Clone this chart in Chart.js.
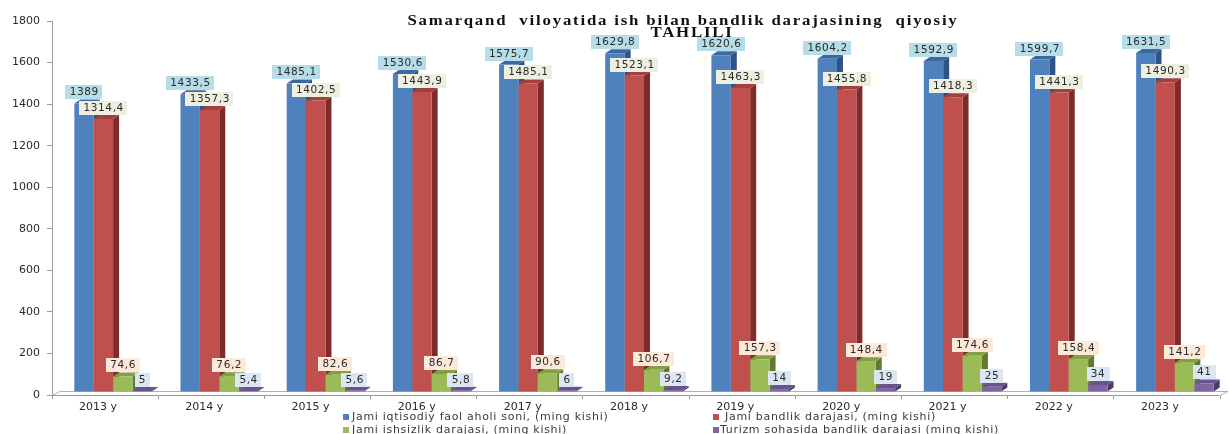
<!DOCTYPE html>
<html>
<head>
<meta charset="utf-8">
<script src="https://cdn.jsdelivr.net/npm/chart.js@4.4.1/dist/chart.umd.min.js"></script>
<style>
  html, body { margin: 0; padding: 0; background: #ffffff; }
  #wrap { position: relative; width: 1229px; height: 434px; overflow: hidden; }
  #c { position: absolute; left: 0; top: 0; }
  .title { position: absolute; font-family: "Liberation Serif", "Times New Roman", serif; font-weight: bold;
           font-size: 14px; line-height: 14px; color: #111; white-space: pre; letter-spacing: 1.5px;
           transform: translateX(-50%) scaleX(1.2); }
  .lg { position: absolute; font-family: "DejaVu Sans", Verdana, sans-serif; font-size: 11px; line-height: 12px;
        color: #3a3a3a; white-space: pre; letter-spacing: 0.7px; }
  .sq { position: absolute; width: 6px; height: 6px; }
</style>
</head>
<body>
<div id="wrap">
  <canvas id="c" width="1229" height="434"></canvas>
  <div class="title" style="left:683px; top:14px;">Samarqand  viloyatida ish bilan bandlik darajasining  qiyosiy</div>
  <div class="title" style="left:692px; top:26px;">TAHLILI</div>
  <div class="sq" style="left:343px; top:414px; background:#4f81bd;"></div>
  <div class="lg" style="left:352px; top:411px;">Jami iqtisodiy faol aholi soni, (ming kishi)</div>
  <div class="sq" style="left:713px; top:414px; background:#c0504d;"></div>
  <div class="lg" style="left:725px; top:411px;">Jami bandlik darajasi, (ming kishi)</div>
  <div class="sq" style="left:343px; top:427px; background:#9bbb59;"></div>
  <div class="lg" style="left:352px; top:424px;">Jami ishsizlik darajasi, (ming kishi)</div>
  <div class="sq" style="left:713px; top:427px; background:#8064a2;"></div>
  <div class="lg" style="left:720px; top:424px;">Turizm sohasida bandlik darajasi (ming kishi)</div>
</div>
<script>
const categories = ["2013 y", "2014 y", "2015 y", "2016 y", "2017 y", "2018 y", "2019 y", "2020 y", "2021 y", "2022 y", "2023 y"];
const seriesNames = [
  "Jami iqtisodiy faol aholi soni, (ming kishi)",
  "Jami bandlik darajasi, (ming kishi)",
  "Jami ishsizlik darajasi, (ming kishi)",
  "Turizm sohasida bandlik darajasi (ming kishi)"
];
const faolAholi = [1389, 1433.5, 1485.1, 1530.6, 1575.7, 1629.8, 1620.6, 1604.2, 1592.9, 1599.7, 1631.5];
const bandlik   = [1314.4, 1357.3, 1402.5, 1443.9, 1485.1, 1523.1, 1463.3, 1455.8, 1418.3, 1441.3, 1490.3];
const ishsizlik = [74.6, 76.2, 82.6, 86.7, 90.6, 106.7, 157.3, 148.4, 174.6, 158.4, 141.2];
const turizm    = [5, 5.4, 5.6, 5.8, 6, 9.2, 14, 19, 25, 34, 41];
const yTicks = [0, 200, 400, 600, 800, 1000, 1200, 1400, 1600, 1800];

const frontColors = ["#4f81bd", "#c0504d", "#9bbb59", "#8064a2"];
const sideColors  = ["#2f5385", "#7e2c2a", "#62792f", "#4e3a6b"];
const topColors   = ["#3d689f", "#a43f3c", "#819f45", "#6a5190"];
const labelBg     = ["#b7dde8", "#eeefe0", "#fde9d9", "#dce6f2"];
const DX = 6, DY = 4;         // depth of the bar side/top faces
const SHIFT_X = 8, SHIFT_Y = 3; // back plane offset of the 3D plot

const fmt = v => String(v).replace('.', ',');

const threeD = {
  id: 'threeD',
  beforeDatasetsDraw(chart) {
    const ctx = chart.ctx;
    const ca = chart.chartArea;
    // floor back edge
    ctx.save();
    ctx.strokeStyle = '#b0b0b0';
    ctx.lineWidth = 1;
    ctx.beginPath();
    ctx.moveTo(ca.left, ca.bottom + 0.5);
    ctx.lineTo(ca.left + SHIFT_X, ca.bottom - SHIFT_Y - 1 + 0.5);
    ctx.lineTo(ca.right + SHIFT_X, ca.bottom - SHIFT_Y - 1 + 0.5);
    ctx.lineTo(ca.right, ca.bottom + 0.5);
    ctx.stroke();
    ctx.restore();
    // move into the back plane for all bar drawing
    ctx.save();
    ctx.translate(SHIFT_X, -SHIFT_Y);
    chart.data.datasets.forEach((ds, i) => {
      const meta = chart.getDatasetMeta(i);
      meta.data.forEach(el => {
        const p = el.getProps(['x', 'y', 'base', 'width'], true);
        const l = p.x - p.width / 2, r = p.x + p.width / 2;
        ctx.fillStyle = sideColors[i];
        ctx.beginPath();
        ctx.moveTo(r, p.y); ctx.lineTo(r + DX, p.y - DY);
        ctx.lineTo(r + DX, p.base - DY); ctx.lineTo(r, p.base);
        ctx.closePath(); ctx.fill();
        ctx.fillStyle = topColors[i];
        ctx.beginPath();
        ctx.moveTo(l, p.y); ctx.lineTo(l + DX, p.y - DY);
        ctx.lineTo(r + DX, p.y - DY); ctx.lineTo(r, p.y);
        ctx.closePath(); ctx.fill();
      });
    });
  },
  afterDatasetsDraw(chart) {
    const ctx = chart.ctx;
    ctx.save();
    ctx.font = '10.5px "DejaVu Sans", Verdana, sans-serif';
    if ('letterSpacing' in ctx) ctx.letterSpacing = '0.6px';
    ctx.textAlign = 'center';
    ctx.textBaseline = 'middle';
    chart.data.datasets.forEach((ds, i) => {
      const meta = chart.getDatasetMeta(i);
      meta.data.forEach((el, j) => {
        const p = el.getProps(['x', 'y'], true);
        const txt = fmt(ds.data[j]);
        const w = ctx.measureText(txt).width + 8;
        const h = 14;
        const cx = p.x;
        const bottom = p.y - 4;
        ctx.fillStyle = labelBg[i];
        ctx.fillRect(Math.round(cx - w / 2), Math.round(bottom - h), Math.round(w), h);
        ctx.fillStyle = '#2a2a2a';
        ctx.fillText(txt, cx + 0.3, Math.round(bottom - h / 2) + 0.5);
      });
    });
    ctx.restore();
    ctx.restore(); // leave the back plane
  }
};

const seriesValues = [faolAholi, bandlik, ishsizlik, turizm];

new Chart(document.getElementById('c'), {
  type: 'bar',
  data: {
    labels: categories,
    datasets: seriesValues.map((vals, i) => ({
      label: seriesNames[i],
      data: vals,
      backgroundColor: frontColors[i],
      borderWidth: 0,
      categoryPercentage: 0.73,
      barPercentage: 1.0
    }))
  },
  options: {
    responsive: false,
    animation: false,
    events: [],
    layout: { padding: { left: 0, top: 21, right: 9, bottom: 0 } },
    plugins: {
      legend: { display: false },
      title: { display: false },
      tooltip: { enabled: false }
    },
    scales: {
      x: {
        grid: { display: true, drawOnChartArea: false, drawTicks: true, tickLength: 4, color: '#9a9a9a', offset: true },
        border: { display: true, color: '#9a9a9a' },
        ticks: { color: '#2a2a2a', font: { family: '"DejaVu Sans", Verdana, sans-serif', size: 11 }, padding: 2, labelOffset: -7, maxRotation: 0, autoSkip: false },
        afterFit: s => { s.height = 39; }
      },
      y: {
        min: 0, max: 1800,
        afterBuildTicks: s => { s.ticks = yTicks.map(v => ({ value: v })); },
        grid: { display: true, drawOnChartArea: false, drawTicks: true, tickLength: 5, color: '#9a9a9a' },
        border: { display: true, color: '#9a9a9a' },
        ticks: { color: '#2a2a2a', font: { family: '"DejaVu Sans", Verdana, sans-serif', size: 11 }, padding: 7,
                 callback: v => String(v) },
        afterFit: s => { s.width = 52; }
      }
    }
  },
  plugins: [threeD]
});
</script>
</body>
</html>
